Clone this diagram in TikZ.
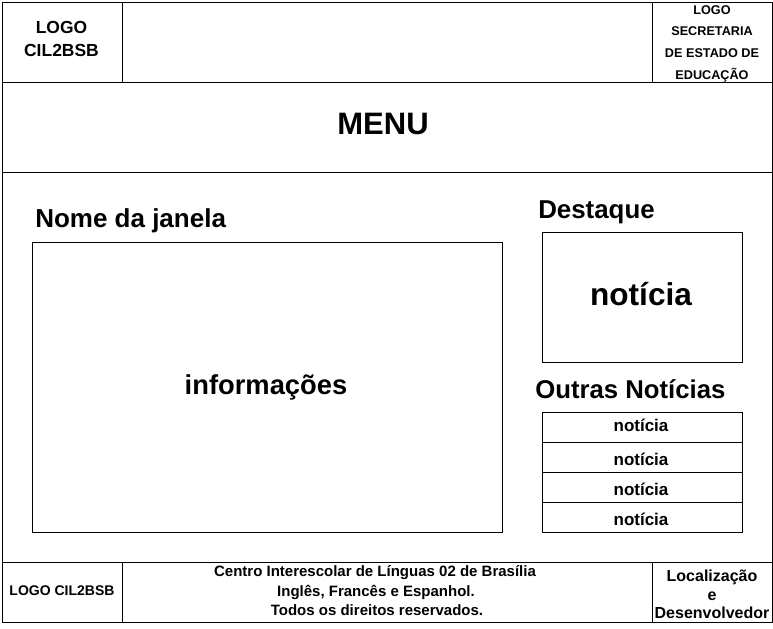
\documentclass[tikz,border=0pt]{standalone}
\usepackage{fontspec}
\setmainfont{Liberation Sans}
\usetikzlibrary{fit}
\begin{document}
\begin{tikzpicture}[x=0.75pt,y=-0.75pt,
  box/.style={draw=black, line width=0.75pt, inner sep=0pt},
  t/.style={inner sep=0pt, anchor=base, text=black, font=\bfseries\fontsize{#1}{#1}\selectfont},
  tl/.style={t=#1, anchor=base west}]
\useasboundingbox (0,0) rectangle (773,628);
\fill[white] (0,0) rectangle (773,628);
% frames
\node[box, fit={(2,2)(772,622)}] (outer) {};
\node[box, fit={(2,2)(122,82)}] (hl) {};
\node[box, fit={(122,2)(652,82)}] (hm) {};
\node[box, fit={(652,2)(772,82)}] (hr) {};
\node[box, fit={(2,82)(772,172)}] (menu) {};
\node[box, fit={(2,172)(772,562)}] (main) {};
\node[box, fit={(2,562)(122,622)}] (fl) {};
\node[box, fit={(122,562)(652,622)}] (fm) {};
\node[box, fit={(652,562)(772,622)}] (fr) {};
\node[box, fit={(32,242)(502,532)}] (info) {};
\node[box, fit={(542,232)(742,362)}] (dest) {};
\node[box, fit={(542,412)(742,442)}] (n1) {};
\node[box, fit={(542,442)(742,472)}] (n2) {};
\node[box, fit={(542,472)(742,502)}] (n3) {};
\node[box, fit={(542,502)(742,532)}] (n4) {};
% header texts
\node[t=13.1] (hl1) at (61.5,33.3) {LOGO};
\node[t=13.1] (hl2) at (61.5,56.7) {CIL2BSB};
\node[t=9.5] (hr1) at (712,14.3) {LOGO};
\node[t=9.5] (hr2) at (712,35.9) {SECRETARIA};
\node[t=9.5] (hr3) at (712,57.5) {DE ESTADO DE};
\node[t=9.5] (hr4) at (712,79.1) {EDUCAÇÃO};
\node[t=23.25] (menut) at (383,134) {MENU};
% main texts
\node[tl=19.5] (nome) at (35,227) {Nome da janela};
\node[t=20.5] (infot) at (266,394) {informações};
\node[tl=19.4] (destt) at (538,218) {Destaque};
\node[t=23.7] (destn) at (641,305) {notícia};
\node[tl=19.3] (outras) at (535,398) {Outras Notícias};
\node[t=12.75] (n1t) at (641,431.7) {notícia};
\node[t=12.75] (n2t) at (641,465) {notícia};
\node[t=12.75] (n3t) at (641,495) {notícia};
\node[t=12.75] (n4t) at (641,525) {notícia};
% footer texts
\node[t=10.5] (flt) at (62,595) {LOGO CIL2BSB};
\node[t=11.25] (fm1) at (375,576.7) {Centro Interescolar de Línguas 02 de Brasília};
\node[t=11.25] (fm2) at (376,596.2) {Inglês, Francês e Espanhol.};
\node[t=11.25] (fm3) at (377,615) {Todos os direitos reservados.};
\node[t=12] (fr1) at (712,581.7) {Localização};
\node[t=12] (fr2) at (712,600) {e};
\node[t=12] (fr3) at (712,618.3) {Desenvolvedor};
\end{tikzpicture}
\end{document}
